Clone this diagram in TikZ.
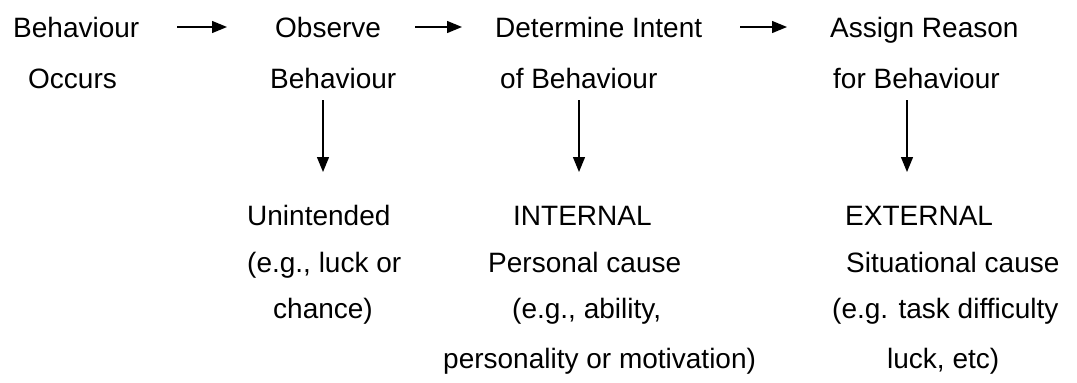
\documentclass[tikz,border=0pt]{standalone}
\usepackage{fontspec}
\setmainfont{Liberation Sans}
\usetikzlibrary{arrows.meta}
\begin{document}
\begin{tikzpicture}[x=1pt,y=-1pt,
  lbl/.style={anchor=base west,inner sep=0pt,font=\fontsize{28}{33}\selectfont},
  arr/.style={line width=1.3pt,-{Triangle[length=15pt,width=12pt]}}]
\useasboundingbox (0,0) rectangle (1077,383);
% top row: the four stages
\node[lbl] (b1) at (13,37) {Behaviour};
\node[lbl] (b2) at (28,88) {Occurs};
\node[lbl] (o1) at (275,37) {Observe};
\node[lbl] (o2) at (270,88) {Behaviour};
\node[lbl] (d1) at (495,37) {Determine Intent};
\node[lbl] (d2) at (500,88) {of Behaviour};
\node[lbl] (a1) at (830,37) {Assign Reason};
\node[lbl] (a2) at (833,88) {for Behaviour};
% outcomes
\node[lbl] (u1) at (247,225) {Unintended};
\node[lbl] (u2) at (247,272) {(e.g., luck or};
\node[lbl] (u3) at (273,318) {chance)};
\node[lbl] (i1) at (513,225) {INTERNAL};
\node[lbl] (i2) at (488,272) {Personal cause};
\node[lbl] (i3) at (512,318) {(e.g., ability,};
\node[lbl] (i4) at (443,368) {personality or motivation)};
\node[lbl] (e1) at (845,225) {EXTERNAL};
\node[lbl] (e2) at (846,272) {Situational cause};
\node[lbl] (e3) at (832,318) {(e.g. task difficulty};
\node[lbl] (e4) at (887,368) {luck, etc)};
% arrow end points
\coordinate (h1s) at (177,27); \coordinate (h1e) at (227,27);
\coordinate (h2s) at (415,27); \coordinate (h2e) at (462,27);
\coordinate (h3s) at (740,27); \coordinate (h3e) at (787,27);
\coordinate (v1s) at (323,100); \coordinate (v1e) at (323,172);
\coordinate (v2s) at (579,100); \coordinate (v2e) at (579,172);
\coordinate (v3s) at (907,100); \coordinate (v3e) at (907,172);
\draw[arr] (h1s) -- (h1e);
\draw[arr] (h2s) -- (h2e);
\draw[arr] (h3s) -- (h3e);
\draw[arr] (v1s) -- (v1e);
\draw[arr] (v2s) -- (v2e);
\draw[arr] (v3s) -- (v3e);
\end{tikzpicture}
\end{document}
